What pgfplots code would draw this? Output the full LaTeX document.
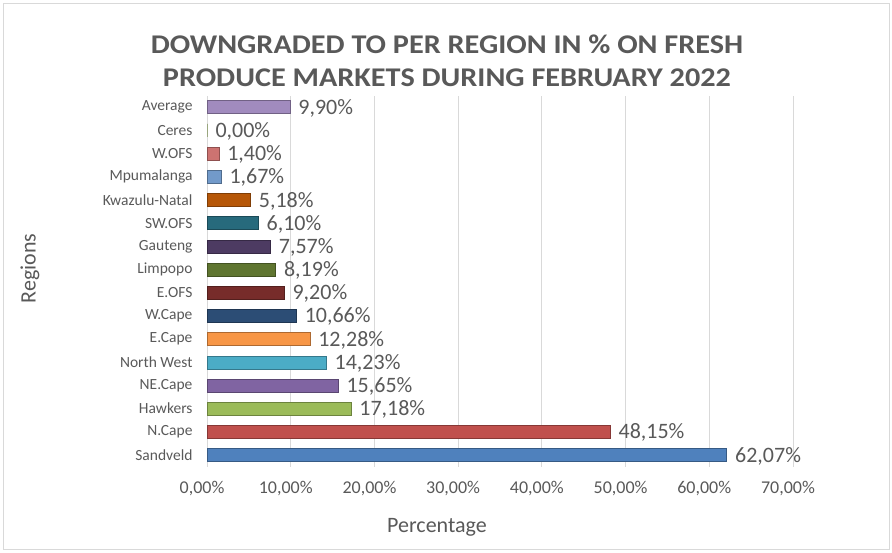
\documentclass[border=0pt]{standalone}
\usepackage{pgfplots}
\pgfplotsset{compat=1.18}
\usepackage{fontspec}
\setmainfont{Carlito}
\newfontfamily\titlefont[FakeStretch=1.12]{Carlito}
\definecolor{cSand}{HTML}{4F81BD}
\definecolor{cNCape}{HTML}{C0504D}
\definecolor{cHawk}{HTML}{9BBB59}
\definecolor{cNECape}{HTML}{8064A2}
\definecolor{cNW}{HTML}{4BACC6}
\definecolor{cECape}{HTML}{F79646}
\definecolor{cWCape}{HTML}{2C4D75}
\definecolor{cEOFS}{HTML}{772C2A}
\definecolor{cLimp}{HTML}{5F7530}
\definecolor{cGaut}{HTML}{4D3B62}
\definecolor{cSWOFS}{HTML}{276A7C}
\definecolor{cKZN}{HTML}{B65708}
\definecolor{cMpu}{HTML}{729ACA}
\definecolor{cWOFS}{HTML}{CD7371}
\definecolor{cCeres}{HTML}{AFC97A}
\definecolor{cAvg}{HTML}{A18BBE}
\definecolor{txt}{HTML}{595959}
\definecolor{gridc}{HTML}{D9D9D9}
\begin{document}
\begin{tikzpicture}
\useasboundingbox (-207pt,-86.4pt) rectangle (685pt,466.6pt);
\draw[gridc, line width=0.8pt] (-204pt,-83pt) rectangle (682pt,463pt);
\begin{axis}[
  at={(0pt,0pt)}, anchor=south west,
  scale only axis, width=586pt, height=371pt,
  xmin=0, xmax=70, ymin=-0.5, ymax=15.5,
  xbar, bar width=13pt, bar shift=0pt,
  xtick={0,10,...,70},
  ytick={0,...,15},
  yticklabels={Sandveld,N.Cape,Hawkers,NE.Cape,North West,E.Cape,W.Cape,E.OFS,Limpopo,Gauteng,SW.OFS,Kwazulu-Natal,Mpumalanga,W.OFS,Ceres,Average},
  xticklabel={\pgfmathprintnumber[fixed,fixed zerofill,precision=2,use comma]{\tick}\%},
  /pgf/number format/assume math mode=true,
  xmajorgrids, major grid style={gridc, line width=0.8pt},
  axis line style={draw=none},
  axis x line*=bottom, axis y line*=left,
  major tick length=0pt,
  x tick label style={font=\fontsize{18}{20}\selectfont, text=txt, yshift=-11pt, xshift=-5pt},
  y tick label style={font=\fontsize{15.5}{17}\selectfont, text=txt, xshift=-11pt},
  nodes near coords={\pgfmathprintnumber[fixed,fixed zerofill,precision=2,use comma]{\pgfplotspointmeta}\%},
  nodes near coords style={font=\fontsize{22}{24}\selectfont, text=txt, anchor=west, xshift=5pt, yshift=-1pt},
  point meta=explicit,
  clip=false,
]
\addplot[fill=cSand, draw=cSand!70!black] coordinates {(62.07,0) [62.07]};
\addplot[fill=cNCape, draw=cNCape!70!black] coordinates {(48.15,1) [48.15]};
\addplot[fill=cHawk, draw=cHawk!70!black] coordinates {(17.18,2) [17.18]};
\addplot[fill=cNECape, draw=cNECape!70!black] coordinates {(15.65,3) [15.65]};
\addplot[fill=cNW, draw=cNW!70!black] coordinates {(14.23,4) [14.23]};
\addplot[fill=cECape, draw=cECape!70!black] coordinates {(12.28,5) [12.28]};
\addplot[fill=cWCape, draw=cWCape!70!black] coordinates {(10.66,6) [10.66]};
\addplot[fill=cEOFS, draw=cEOFS!70!black] coordinates {(9.20,7) [9.20]};
\addplot[fill=cLimp, draw=cLimp!70!black] coordinates {(8.19,8) [8.19]};
\addplot[fill=cGaut, draw=cGaut!70!black] coordinates {(7.57,9) [7.57]};
\addplot[fill=cSWOFS, draw=cSWOFS!70!black] coordinates {(6.10,10) [6.10]};
\addplot[fill=cKZN, draw=cKZN!70!black] coordinates {(5.18,11) [5.18]};
\addplot[fill=cMpu, draw=cMpu!70!black] coordinates {(1.67,12) [1.67]};
\addplot[fill=cWOFS, draw=cWOFS!70!black] coordinates {(1.40,13) [1.40]};
\addplot[fill=cCeres, draw=cCeres!70!black] coordinates {(0.0,14) [0.00]};
\addplot[fill=cAvg, draw=cAvg!70!black] coordinates {(9.90,15) [9.90]};
\end{axis}
\node[font=\titlefont\bfseries\fontsize{27}{33}\selectfont, text=txt, align=center, anchor=center] at (240pt,406pt) {DOWNGRADED TO PER REGION IN \% ON FRESH\\PRODUCE MARKETS DURING FEBRUARY 2022};
\node[font=\fontsize{22}{24}\selectfont, text=txt] at (230pt,-60.4pt) {Percentage};
\node[font=\fontsize{22}{24}\selectfont, text=txt, rotate=90] at (-177pt,198pt) {Regions};
\end{tikzpicture}
\end{document}
